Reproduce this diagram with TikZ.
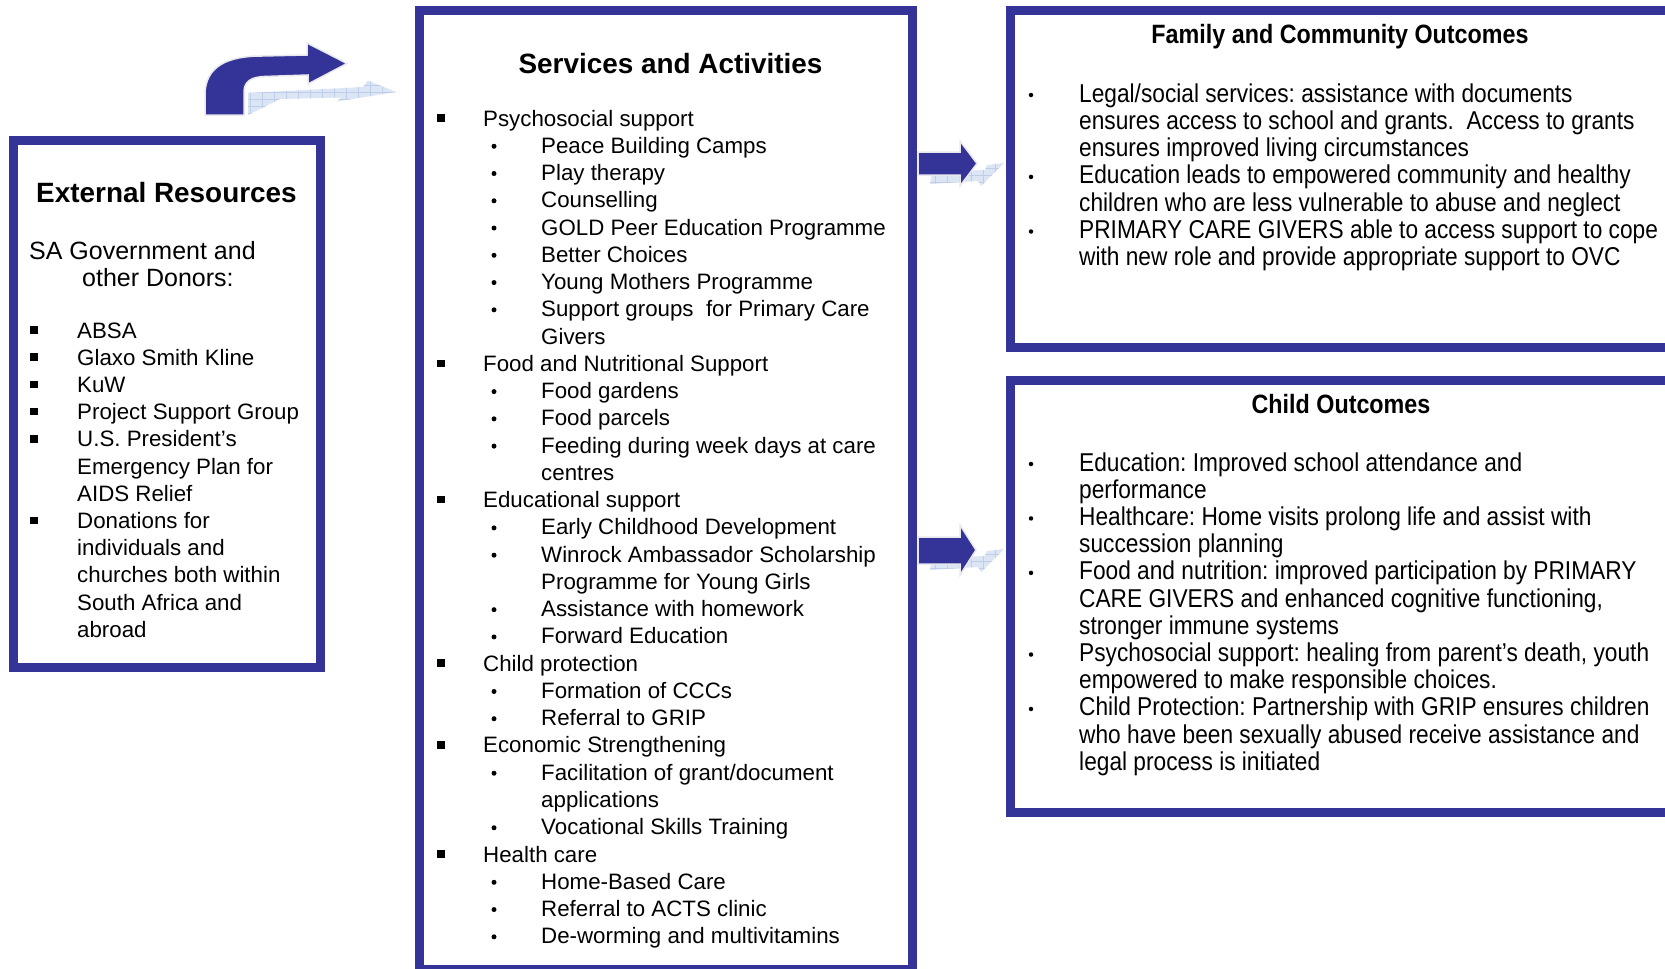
\documentclass[tikz,border=0pt]{standalone}
\usepackage{fontspec}
\setmainfont{Liberation Sans}
\newfontfamily\condfont[FakeStretch=0.88]{Liberation Sans}
\definecolor{boxblue}{RGB}{52,52,152}
\definecolor{paleblue}{RGB}{220,229,244}
\definecolor{gridblue}{RGB}{190,205,233}
\definecolor{glow}{RGB}{232,232,238}
\newcommand\fBody{\fontsize{22.3}{27}\selectfont}
\newcommand\fTitle{\bfseries\fontsize{27.9}{32}\selectfont}
\newcommand\fSA{\fontsize{25}{27}\selectfont}
\newcommand\fRBody{\condfont\fontsize{25.8}{27}\selectfont}
\newcommand\fRTitle{\condfont\bfseries\fontsize{26.5}{30}\selectfont}
\tikzset{
  box/.style={draw=boxblue, line width=9pt, rectangle, inner sep=0pt},
  txt/.style={anchor=base west, inner sep=0pt, font=\fBody},
  rtxt/.style={anchor=base west, inner sep=0pt, font=\fRBody},
  sqbul/.style={rectangle, fill=black, minimum size=7.5pt, inner sep=0pt},
  dotbul/.style={circle, fill=black, minimum size=5pt, inner sep=0pt},
  rdot/.style={circle, fill=black, minimum size=4.5pt, inner sep=0pt},
  darkarrow/.style={fill=boxblue, draw=glow, line width=1.5pt},
}
% services box lines
\newcommand\svM[2]{\node[sqbul] (sb#1) at (441,{126+27.26*(#1-1)-8}) {};
  \node[txt] (s#1) at (483,{126+27.26*(#1-1)}) {#2};}
\newcommand\svS[2]{\node[dotbul] (sb#1) at (494,{126+27.26*(#1-1)-7}) {};
  \node[txt] (s#1) at (541,{126+27.26*(#1-1)}) {#2};}
\newcommand\svC[2]{\node[txt] (s#1) at (541,{126+27.26*(#1-1)}) {#2};}
% external box lines
\newcommand\exM[2]{\node[sqbul] (eb#1) at (34,{338+27.2*(#1-1)-8}) {};
  \node[txt] (e#1) at (77,{338+27.2*(#1-1)}) {#2};}
\newcommand\exC[2]{\node[txt] (e#1) at (77,{338+27.2*(#1-1)}) {#2};}
% family box lines
\newcommand\faM[2]{\node[rdot] (fb#1) at (1031,{102+27.3*(#1-1)-7}) {};
  \node[rtxt] (f#1) at (1079,{102+27.3*(#1-1)}) {#2};}
\newcommand\faC[2]{\node[rtxt] (f#1) at (1079,{102+27.3*(#1-1)}) {#2};}
% child box lines
\newcommand\chM[2]{\node[rdot] (cb#1) at (1031,{471+27.22*(#1-1)-7}) {};
  \node[rtxt] (c#1) at (1079,{471+27.22*(#1-1)}) {#2};}
\newcommand\chC[2]{\node[rtxt] (c#1) at (1079,{471+27.22*(#1-1)}) {#2};}

\begin{document}
\frenchspacing
\begin{tikzpicture}[x=1pt,y=-1pt]
\useasboundingbox (0,0) rectangle (1665,969);
\clip (0,0) rectangle (1665,969);
\fill[white] (0,0) rectangle (1665,969);

% ---------- boxes ----------
\node[box, minimum width=307pt, minimum height=527pt] (ext) at (167,404) {};
\node[box, minimum width=493pt, minimum height=958.5pt] (svc) at (666,489.75) {};
\node[box, minimum width=689.5pt, minimum height=336.5pt] (fam) at (1355.25,178.75) {};
\node[box, minimum width=689.5pt, minimum height=431.5pt] (chd) at (1355.25,596.25) {};

% ---------- curved arrow (top left) ----------
\begin{scope}
  \clip (248,115) -- (248,93) -- (363,87) -- (368,80.5) -- (396,92) -- (337,101.5) -- (341,97.5) -- (280,99) -- cycle;
  \fill[paleblue] (240,75) rectangle (400,120);
  \foreach \gx in {250,262,...,400} \draw[gridblue, line width=0.7pt] (\gx,75) -- (\gx,120);
  \foreach \gy in {85,92,...,120} \draw[gridblue, line width=0.7pt] (240,\gy) -- (400,\gy);
\end{scope}
\path[darkarrow] (205,115) -- (205,95) .. controls (205,66) and (228,56) .. (262,56) -- (307,55) -- (307,43) -- (347,63.5) -- (308,84) -- (308,75) -- (264,76.5) .. controls (252,77) and (244,81) .. (244,92) -- (244,115) -- cycle;

% ---------- right arrows ----------
\foreach \dy in {0,386}{
\begin{scope}[shift={(0,\dy)}]
  \clip (930,184) -- (932,172) -- (985,170) -- (987,165) -- (1004,163) -- (981,186) -- (978,181) -- cycle;
  \fill[paleblue] (925,155) rectangle (1010,195);
  \foreach \gx in {935,947,...,1010} \draw[gridblue, line width=0.7pt] (\gx,155) -- (\gx,195);
  \foreach \gy in {168,175,...,195} \draw[gridblue, line width=0.7pt] (925,\gy) -- (1010,\gy);
\end{scope}
}
\path[darkarrow] (918,152) -- (960,152) -- (960,141) -- (977,163.5) -- (960,186) -- (960,175) -- (918,175) -- cycle;
\path[darkarrow] (918,537) -- (960,537) -- (960,525) -- (976,550) -- (960,575) -- (960,564) -- (918,564) -- cycle;

% ---------- External Resources ----------
\node[anchor=base, inner sep=0pt, font=\fTitle] (extT) at (166.5,202) {External Resources};
\node[anchor=base west, inner sep=0pt, font=\fSA] (sa1) at (29,259) {SA Government and};
\node[anchor=base west, inner sep=0pt, font=\fSA] (sa2) at (82,286) {other Donors:};
\exM{1}{ABSA}
\exM{2}{Glaxo Smith Kline}
\exM{3}{KuW}
\exM{4}{Project Support Group}
\exM{5}{U.S. President’s}
\exC{6}{Emergency Plan for}
\exC{7}{AIDS Relief}
\exM{8}{Donations for}
\exC{9}{individuals and}
\exC{10}{churches both within}
\exC{11}{South Africa and}
\exC{12}{abroad}

% ---------- Services and Activities ----------
\node[anchor=base, inner sep=0pt, font=\fTitle] (svcT) at (670.5,73) {Services and Activities};
\svM{1}{Psychosocial support}
\svS{2}{Peace Building Camps}
\svS{3}{Play therapy}
\svS{4}{Counselling}
\svS{5}{GOLD Peer Education Programme}
\svS{6}{Better Choices}
\svS{7}{Young Mothers Programme}
\svS{8}{Support groups\ \ for Primary Care}
\svC{9}{Givers}
\svM{10}{Food and Nutritional Support}
\svS{11}{Food gardens}
\svS{12}{Food parcels}
\svS{13}{Feeding during week days at care}
\svC{14}{centres}
\svM{15}{Educational support}
\svS{16}{Early Childhood Development}
\svS{17}{Winrock Ambassador Scholarship}
\svC{18}{Programme for Young Girls}
\svS{19}{Assistance with homework}
\svS{20}{Forward Education}
\svM{21}{Child protection}
\svS{22}{Formation of CCCs}
\svS{23}{Referral to GRIP}
\svM{24}{Economic Strengthening}
\svS{25}{Facilitation of grant/document}
\svC{26}{applications}
\svS{27}{Vocational Skills Training}
\svM{28}{Health care}
\svS{29}{Home-Based Care}
\svS{30}{Referral to ACTS clinic}
\svS{31}{De-worming and multivitamins}

% ---------- Family and Community Outcomes ----------
\node[anchor=base, inner sep=0pt, font=\fRTitle] (famT) at (1340,43) {Family and Community Outcomes};
\faM{1}{Legal/social services: assistance with documents}
\faC{2}{ensures access to school and grants.\ \ Access to grants}
\faC{3}{ensures improved living circumstances}
\faM{4}{Education leads to empowered community and healthy}
\faC{5}{children who are less vulnerable to abuse and neglect}
\faM{6}{PRIMARY CARE GIVERS able to access support to cope}
\faC{7}{with new role and provide appropriate support to OVC}

% ---------- Child Outcomes ----------
\node[anchor=base, inner sep=0pt, font=\fRTitle] (chdT) at (1341,413) {Child Outcomes};
\chM{1}{Education: Improved school attendance and}
\chC{2}{performance}
\chM{3}{Healthcare: Home visits prolong life and assist with}
\chC{4}{succession planning}
\chM{5}{Food and nutrition: improved participation by PRIMARY}
\chC{6}{CARE GIVERS and enhanced cognitive functioning,}
\chC{7}{stronger immune systems}
\chM{8}{Psychosocial support: healing from parent’s death, youth}
\chC{9}{empowered to make responsible choices.}
\chM{10}{Child Protection: Partnership with GRIP ensures children}
\chC{11}{who have been sexually abused receive assistance and}
\chC{12}{legal process is initiated}
\end{tikzpicture}
\end{document}
